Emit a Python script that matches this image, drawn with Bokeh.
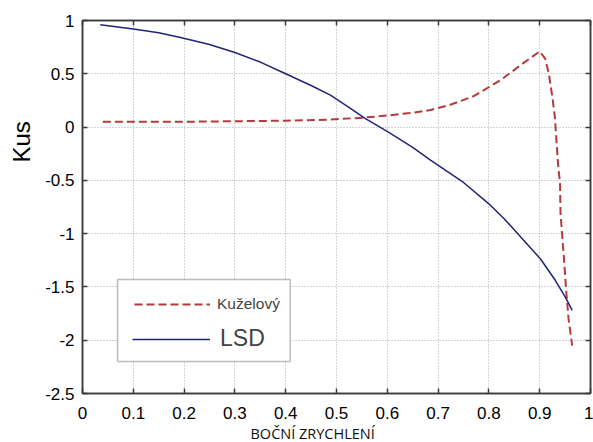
from bokeh.plotting import figure
from bokeh.models import (LinearAxis, FixedTicker, Legend, LegendItem, Title,
                          BoxAnnotation, Range1d)
from bokeh.embed import file_html
from bokeh.resources import INLINE

# ---- data ----
lsd_x = [0.035, 0.1, 0.15, 0.193, 0.25, 0.3, 0.35, 0.4, 0.45, 0.488, 0.52, 0.557,
         0.603, 0.65, 0.685, 0.75, 0.8, 0.83, 0.872, 0.902, 0.931, 0.951, 0.964]
lsd_y = [0.96, 0.92, 0.885, 0.84, 0.775, 0.70, 0.61, 0.50, 0.39, 0.30, 0.20, 0.08,
         -0.05, -0.19, -0.31, -0.52, -0.72, -0.86, -1.08, -1.24, -1.44, -1.60, -1.72]

kuz_x = [0.04, 0.1, 0.2, 0.3, 0.4, 0.488, 0.557, 0.603, 0.65, 0.685, 0.724, 0.77,
         0.823, 0.862, 0.9, 0.911, 0.918, 0.925, 0.930, 0.933, 0.936, 0.940,
         0.941, 0.944, 0.948, 0.952, 0.957, 0.964]
kuz_y = [0.05, 0.05, 0.05, 0.055, 0.06, 0.07, 0.09, 0.11, 0.135, 0.16, 0.21, 0.29,
         0.44, 0.58, 0.71, 0.64, 0.50, 0.28, 0.09, -0.13, -0.34, -0.53,
         -0.81, -1.0, -1.25, -1.53, -1.81, -2.05]

x_ticks = [0, 0.1, 0.2, 0.3, 0.4, 0.5, 0.6, 0.7, 0.8, 0.9, 1.0]
x_tick_labels = ["0", "0.1", "0.2", "0.3", "0.4", "0.5", "0.6", "0.7", "0.8", "0.9", "1"]
y_ticks = [-2.5, -2, -1.5, -1, -0.5, 0, 0.5, 1]
y_tick_labels = ["-2.5", "-2", "-1.5", "-1", "-0.5", "0", "0.5", "1"]

series_names = ["Kuželový", "LSD"]
x_title = "BOČNÍ ZRYCHLENÍ"
y_title = "Kus"

RED = "#b8393c"
BLUE = "#23237a"
AX = "#3a3a3a"
TICK_FONT = "Liberation Sans"

p = figure(width=593, height=442, x_range=Range1d(0, 1), y_range=Range1d(-2.5, 1),
           output_backend="svg", toolbar_location=None,
           min_border_left=82, min_border_right=3, min_border_top=20, min_border_bottom=49)

p.background_fill_color = "white"
p.border_fill_color = "white"
p.outline_line_color = AX
p.outline_line_width = 1.5

for ax in p.xaxis:
    ax.ticker = FixedTicker(ticks=x_ticks)
    ax.major_label_overrides = {t: l for t, l in zip(x_ticks, x_tick_labels)}
    ax.major_label_standoff = 13
for ax in p.yaxis:
    ax.ticker = FixedTicker(ticks=y_ticks)
    ax.major_label_overrides = {t: l for t, l in zip(y_ticks, y_tick_labels)}
    ax.major_label_standoff = 8

for ax in list(p.xaxis) + list(p.yaxis):
    ax.major_tick_in = 5
    ax.major_tick_out = 0
    ax.minor_tick_line_color = None
    ax.axis_line_color = AX
    ax.axis_line_width = 1.5
    ax.major_tick_line_color = AX
    ax.major_tick_line_width = 1.5
    ax.major_label_text_font = TICK_FONT
    ax.major_label_text_font_size = "17px"
    ax.major_label_text_color = "black"

# top and right axes: ticks only
top = LinearAxis(ticker=FixedTicker(ticks=x_ticks), major_label_text_font_size="0px",
                 major_label_standoff=0, major_tick_in=5, major_tick_out=0,
                 minor_tick_line_color=None, axis_line_color=AX, axis_line_width=1.5,
                 major_tick_line_color=AX, major_tick_line_width=1.5)
right = LinearAxis(ticker=FixedTicker(ticks=y_ticks), major_label_text_font_size="0px",
                   major_label_standoff=0, major_tick_in=5, major_tick_out=0,
                   minor_tick_line_color=None, axis_line_color=AX, axis_line_width=1.5,
                   major_tick_line_color=AX, major_tick_line_width=1.5)
p.add_layout(top, "above")
p.add_layout(right, "right")

p.xgrid.ticker = FixedTicker(ticks=x_ticks)
p.ygrid.ticker = FixedTicker(ticks=y_ticks)
for g in (p.xgrid, p.ygrid):
    g.grid_line_color = "#a8a8a8"
    g.grid_line_dash = "1 2"
    g.grid_line_width = 1

r_red = p.line(kuz_x, kuz_y, line_color=RED, line_width=2, line_dash="8 4")
r_blue = p.line(lsd_x, lsd_y, line_color=BLUE, line_width=1.5)

# axis titles
p.add_layout(Title(text=y_title, align="left", offset=231, standoff=12,
                   vertical_align="top",
                   text_font=TICK_FONT, text_font_size="24px",
                   text_font_style="normal", text_color="black"), "left")
p.add_layout(Title(text=x_title, align="left", offset=168, standoff=0,
                   text_font="Open Sans", text_font_size="14.5px",
                   text_font_style="normal", text_color="#111111"), "below")

# legend frame
box = BoxAnnotation(left=0.069, right=0.409, top=-1.43, bottom=-2.20,
                    fill_color="white", fill_alpha=1.0,
                    line_color="#222222", line_width=1.5)
p.add_layout(box)

leg1 = Legend(items=[LegendItem(label=series_names[0], renderers=[r_red])],
              location=(52, 79), glyph_width=76, glyph_height=20, label_height=20,
              label_standoff=7, label_text_font=TICK_FONT, label_text_font_size="15.5px",
              padding=0, margin=0, spacing=0, border_line_color=None,
              background_fill_alpha=0)
leg2 = Legend(items=[LegendItem(label=series_names[1], renderers=[r_blue])],
              location=(50, 41), glyph_width=78, glyph_height=24, label_height=24,
              label_standoff=10, label_text_font=TICK_FONT, label_text_font_size="23px",
              padding=0, margin=0, spacing=0, border_line_color=None,
              background_fill_alpha=0)
p.add_layout(leg1)
p.add_layout(leg2)

open("out.html", "w").write(file_html(p, INLINE))
